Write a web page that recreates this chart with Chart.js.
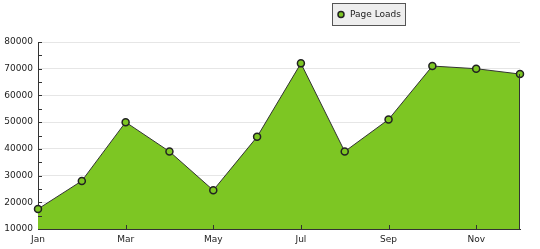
<!DOCTYPE html>
<html>
<head>
<meta charset="utf-8">
<script src="https://cdn.jsdelivr.net/npm/chart.js@4"></script>
<style>
  html, body { margin: 0; padding: 0; background: #fff; }
  #wrap { width: 540px; height: 249px; }
</style>
</head>
<body>
<div id="wrap"><canvas id="loads" width="540" height="249"></canvas></div>
<script>
// data
const months = ["Jan", "Feb", "Mar", "Apr", "May", "Jun", "Jul", "Aug", "Sep", "Oct", "Nov", "Dec"];
const pageLoads = [17500, 28000, 50000, 39000, 24500, 44500, 72000, 39000, 51000, 71000, 70000, 68000];
const seriesName = "Page Loads";

const green = "#7dc623";
const dark = "#333333";
const tickFont = { family: "DejaVu Sans", size: 9 };

// edge of the area on the right, before the points go on top
const areaEdge = {
    id: "areaEdge",
    beforeDatasetsDraw(chart) {},
    afterDatasetDraw(chart) {
        let x = chart.scales.x, y = chart.scales.y;
        let last = pageLoads.length - 1;
        let px = Math.round(x.getPixelForValue(last)) - 0.5;
        let ctx = chart.ctx;
        ctx.save();
        ctx.strokeStyle = dark;
        ctx.lineWidth = 1;
        ctx.beginPath();
        ctx.moveTo(px, y.getPixelForValue(pageLoads[last]));
        ctx.lineTo(px, y.bottom);
        ctx.stroke();
        ctx.restore();
    }
};

// small tick marks inside the plot, plus the legend box at the top
const extras = {
    id: "extras",
    afterDraw(chart) {
        let ctx = chart.ctx;
        let x = chart.scales.x, y = chart.scales.y;
        ctx.save();
        ctx.strokeStyle = dark;
        ctx.lineWidth = 1;
        ctx.beginPath();
        for (let v = 15000; v <= 80000; v += 5000) {
            let py = Math.round(y.getPixelForValue(v)) + 0.5;
            ctx.moveTo(x.left, py);
            ctx.lineTo(x.left + 4, py);
        }
        for (let i = 2; i < months.length; i += 2) {
            let px = Math.round(x.getPixelForValue(i)) + 0.5;
            ctx.moveTo(px, y.bottom);
            ctx.lineTo(px, y.bottom - 4);
        }
        ctx.stroke();

        // legend
        ctx.fillStyle = "#eeeeee";
        ctx.fillRect(332.5, 3.5, 73, 22);
        ctx.strokeStyle = "#555555";
        ctx.strokeRect(332.5, 3.5, 73, 22);
        ctx.beginPath();
        ctx.arc(341, 14.5, 3, 0, Math.PI * 2);
        ctx.fillStyle = green;
        ctx.fill();
        ctx.strokeStyle = "#222";
        ctx.lineWidth = 1.5;
        ctx.stroke();
        ctx.fillStyle = "#222";
        ctx.font = "9px 'DejaVu Sans'";
        ctx.textBaseline = "middle";
        ctx.fillText(seriesName, 350, 15);
        ctx.restore();
    }
};

let ctx = document.getElementById("loads").getContext("2d");
new Chart(ctx, {
    type: "line",
    data: {
        labels: months,
        datasets: [{
            label: seriesName,
            data: pageLoads,
            fill: "start",
            backgroundColor: green,
            borderColor: dark,
            borderWidth: 1,
            tension: 0,
            pointRadius: 3.5,
            pointBackgroundColor: green,
            pointBorderColor: "#222",
            pointBorderWidth: 1.5
        }]
    },
    options: {
        responsive: false,
        animation: false,
        layout: { padding: { top: 42, right: 20, left: 0, bottom: 0 } },
        plugins: {
            legend: { display: false },
            tooltip: { enabled: false }
        },
        scales: {
            x: {
                offset: false,
                grid: { display: false, drawTicks: false },
                border: { color: dark, width: 1 },
                ticks: {
                    color: "#222",
                    font: tickFont,
                    padding: 5,
                    maxRotation: 0,
                    autoSkip: false,
                    callback: function(v, i) { return i % 2 === 0 ? months[i] : ""; }
                },
                afterFit: function(s) { s.height = 20; }
            },
            y: {
                min: 10000,
                max: 80000,
                grid: { color: "#e6e6e6", drawTicks: false },
                border: { color: dark, width: 1 },
                ticks: {
                    stepSize: 10000,
                    color: "#222",
                    font: tickFont,
                    padding: 5,
                    callback: function(v) { return String(v); }
                },
                afterFit: function(s) { s.width = 38; }
            }
        }
    },
    plugins: [areaEdge, extras]
});
</script>
</body>
</html>
